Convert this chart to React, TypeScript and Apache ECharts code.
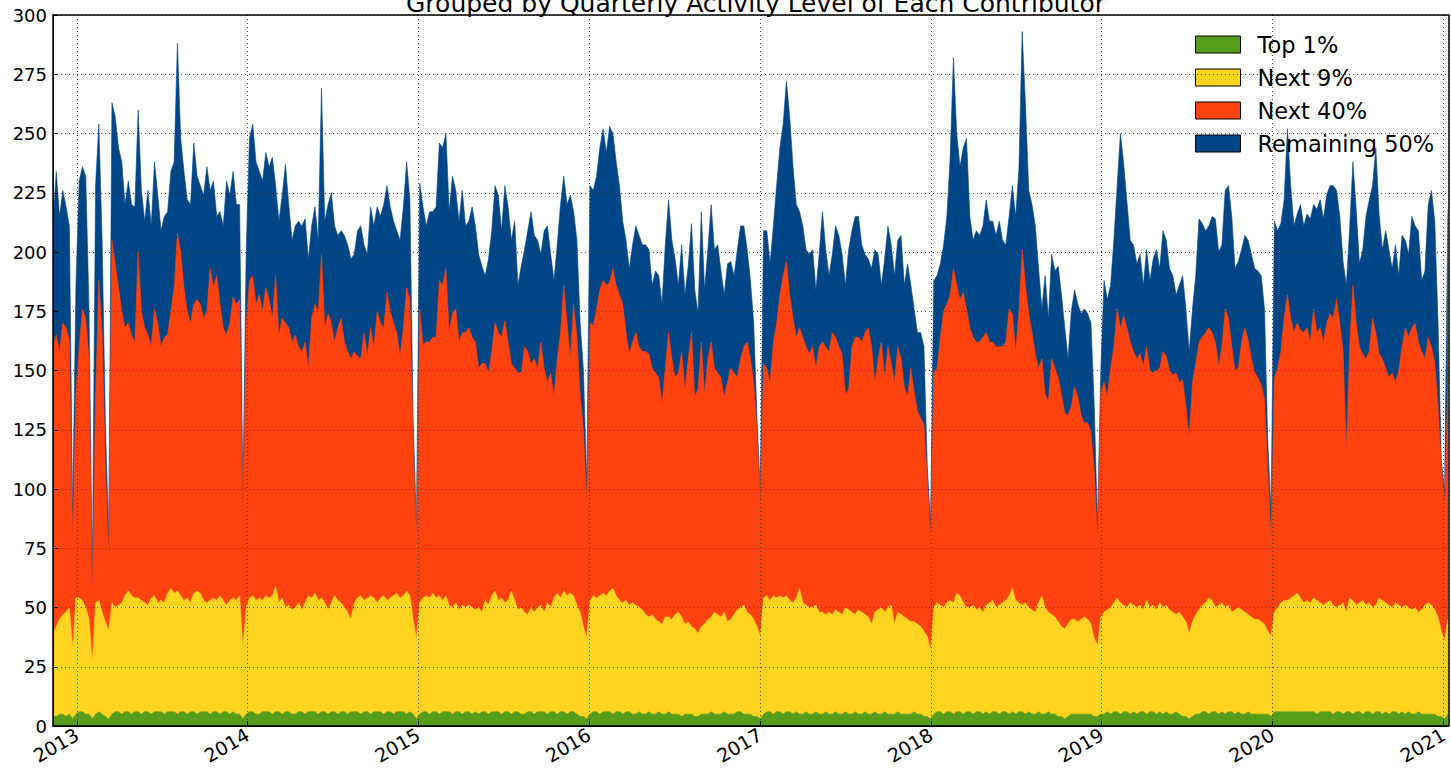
import React, { useEffect, useRef } from "react";
import * as echarts from "echarts";

// Weekly samples, first week starting 2012-11-11
const firstWeek = Date.UTC(2012, 10, 11);
const WEEK_MS = 7 * 24 * 3600 * 1000;
const xMin = Date.UTC(2012, 10, 11);
const xMax = Date.UTC(2021, 0, 10);

const titleText = "Grouped by Quarterly Activity Level of Each Contributor";
const legendOrder = ["Top 1%", "Next 9%", "Next 40%", "Remaining 50%"];
const groupColors: Record<string, string> = {
  "Top 1%": "#579d1c",
  "Next 9%": "#ffd320",
  "Next 40%": "#ff420e",
  "Remaining 50%": "#004586",
};

// Cumulative level (top of each band) per week
// Top of "Remaining 50%" band (= all contributors)
const levelAll = [
  213,234,215,226,219,211,89,186,230,236,
  232,176,62,228,254,205,128,80,263,257,
  244,238,220,230,220,219,260,226,213,226,
  211,238,224,209,215,217,234,238,288,248,
  234,222,220,246,232,228,224,236,226,230,
  215,217,211,230,224,234,220,220,97,200,
  248,254,238,234,230,242,236,240,228,213,
  224,237,220,205,211,213,211,214,197,211,
  219,205,269,213,220,225,211,207,209,207,
  203,197,199,209,211,203,199,219,211,219,
  215,220,228,219,213,209,205,219,238,222,
  128,85,229,219,211,217,217,219,246,244,
  250,217,232,226,213,226,211,213,219,211,
  199,194,190,197,209,228,224,209,228,219,
  205,213,186,194,201,209,217,207,205,199,
  209,211,199,188,203,220,232,220,224,217,
  205,170,150,102,228,226,232,244,252,242,
  253,250,238,228,213,205,193,203,211,207,
  203,203,201,186,192,190,178,203,222,205,
  197,186,203,182,194,212,184,174,217,184,
  201,220,201,203,192,182,195,196,190,201,
  211,211,201,188,170,130,99,209,209,195,
  211,228,244,254,272,257,236,220,217,211,
  201,199,201,184,199,217,201,190,199,211,
  207,199,186,201,209,215,215,203,199,197,
  193,201,199,186,197,211,203,190,205,207,
  186,195,186,176,166,166,160,110,85,188,
  190,195,203,215,240,282,250,236,244,248,
  215,205,209,207,211,222,213,213,207,213,
  205,203,215,228,215,235,293,262,226,220,
  211,193,176,190,172,199,192,194,182,168,
  155,175,184,178,174,176,174,170,135,85,
  150,188,180,186,205,228,250,237,221,205,
  203,195,199,186,201,188,197,201,193,209,
  205,193,190,182,186,190,176,158,176,190,
  214,212,209,211,215,214,200,203,226,228,
  215,193,196,201,207,205,199,193,192,190,
  176,120,90,213,209,212,222,252,228,211,
  216,220,211,216,214,220,218,222,214,224,
  228,228,226,215,196,186,210,238,218,195,
  201,215,222,228,244,216,201,209,201,193,
  203,190,207,205,199,215,211,209,188,192,
  220,226,213,170,112,99,218,
];

// Top of "Next 40%" band (top 50% of contributors)
const levelTop50 = [
  160,165,158,170,168,163,80,141,160,176,
  172,155,55,140,188,165,110,72,205,195,
  185,175,168,170,165,162,200,175,168,165,
  160,176,170,160,164,165,175,185,208,200,
  185,175,170,178,180,178,172,175,193,185,
  190,178,168,165,170,181,178,180,90,170,
  188,190,178,182,175,185,180,172,190,165,
  172,170,168,162,165,160,158,162,151,172,
  178,175,199,168,174,170,162,168,172,162,
  158,155,158,156,155,166,156,168,160,175,
  170,168,183,175,170,166,156,168,185,180,
  120,80,176,161,162,162,164,164,188,186,
  193,166,174,176,162,166,166,168,164,162,
  151,153,153,149,158,170,166,164,171,162,
  153,151,149,149,160,158,153,155,151,162,
  151,145,149,139,155,166,186,170,155,178,
  164,140,125,95,170,169,176,184,188,186,
  187,193,186,182,178,166,157,162,166,160,
  158,158,157,151,149,147,136,151,166,155,
  147,149,158,142,155,166,139,142,162,140,
  155,162,151,149,147,139,145,151,149,147,
  155,160,162,155,145,125,95,153,151,145,
  162,170,182,190,196,182,172,164,168,164,
  160,157,160,151,160,162,160,158,166,164,
  160,157,140,142,160,164,164,162,166,168,
  160,145,155,162,147,160,153,145,160,155,
  143,139,151,141,133,130,127,105,80,149,
  151,164,175,178,182,193,186,180,183,176,
  168,164,162,162,164,166,162,162,160,160,
  160,162,176,174,158,175,201,186,174,166,
  157,151,155,140,137,155,151,147,140,132,
  131,135,143,139,131,128,128,124,108,80,
  141,145,139,151,160,176,168,173,168,162,
  158,155,157,152,160,150,149,150,151,158,
  156,150,148,149,145,146,135,122,145,153,
  162,164,166,168,166,162,152,160,176,172,
  160,150,151,162,168,163,155,149,147,144,
  138,108,79,147,151,158,172,182,172,166,
  170,167,166,168,162,176,166,168,162,170,
  174,172,180,170,158,116,160,186,170,160,
  157,155,158,172,166,157,155,151,147,149,
  145,150,160,168,164,168,170,162,158,155,
  164,160,153,135,110,95,143,
];

// Top of "Next 9%" band (top 10% of contributors)
const levelTop10 = [
  39,42,45,47,48,50,33,54,54,53,
  50,45,27,52,53,48,44,40,52,50,
  51,52,55,57,55,54,54,53,52,51,
  54,55,52,53,52,56,58,56,57,55,
  53,54,52,56,57,56,53,52,53,54,
  53,55,53,51,53,54,53,55,33,50,
  54,55,53,54,53,55,54,55,59,52,
  54,50,51,49,50,52,49,52,55,54,
  56,53,54,52,49,52,55,53,52,50,
  48,45,52,54,55,53,54,55,54,52,
  54,55,53,54,55,56,54,55,57,55,
  45,37,52,54,55,54,56,54,55,53,
  55,51,50,52,49,51,50,51,50,49,
  50,48,53,51,55,57,53,54,52,53,
  57,53,49,50,48,47,50,48,50,51,
  48,52,50,54,56,54,57,55,56,55,
  51,48,42,37,53,55,54,55,56,55,
  57,58,55,53,52,53,51,52,51,50,
  49,47,46,47,45,44,43,46,46,45,
  47,48,46,43,44,42,41,39,42,43,
  45,46,48,47,46,48,44,45,47,49,
  50,51,48,47,45,42,38,54,55,53,
  55,54,55,54,55,53,52,54,58,52,
  51,50,50,51,48,48,47,48,47,49,
  48,47,50,49,48,47,49,48,47,46,
  43,48,49,50,48,50,51,43,48,47,
  46,45,44,44,43,42,40,38,32,50,
  52,51,50,52,53,52,56,55,52,50,
  50,51,49,50,48,51,52,53,50,51,
  52,53,55,58,53,52,51,52,50,49,
  48,52,55,50,48,47,46,44,42,41,
  43,45,45,44,45,46,45,43,37,34,
  46,48,49,50,52,54,52,51,50,52,
  51,50,51,49,53,50,51,49,52,50,
  51,49,48,47,48,46,44,39,44,47,
  49,51,52,54,53,50,51,52,50,51,
  48,49,50,49,48,47,46,45,45,44,
  43,40,38,48,50,52,53,53,54,55,
  56,54,52,53,52,54,53,52,51,52,
  53,51,50,51,52,48,54,53,51,52,
  53,51,52,50,51,54,53,52,51,50,
  52,51,50,51,50,49,50,48,49,51,
  52,51,49,46,40,36,45,
];

// Top of "Top 1%" band
const levelTop1 = [
  4,4,5,5,4,5,3,5,6,6,
  5,5,3,5,6,5,4,3,5,6,
  6,5,6,6,5,6,6,5,6,6,
  5,6,6,6,5,6,6,6,5,6,
  6,5,6,6,5,6,6,6,5,6,
  6,5,6,6,5,6,5,5,3,5,
  6,6,5,5,6,6,6,5,6,6,
  5,6,6,5,5,6,6,5,6,6,
  6,5,6,6,5,6,6,5,6,6,
  5,6,6,6,5,6,6,5,6,6,
  6,5,6,6,5,6,6,6,5,6,
  5,3,5,6,6,5,6,6,5,6,
  6,6,5,6,6,5,6,6,5,6,
  5,6,6,5,6,6,6,5,6,6,
  5,6,6,5,5,6,6,5,6,6,
  6,5,6,6,5,6,6,5,6,6,
  5,4,4,3,5,6,6,5,6,6,
  6,5,6,6,5,6,6,5,5,6,
  5,5,6,5,5,6,5,5,6,5,
  5,5,4,5,5,5,4,4,5,5,
  5,6,5,5,5,6,5,5,5,6,
  6,5,5,5,4,4,3,5,6,6,
  5,6,6,5,6,6,5,6,5,5,
  6,5,5,6,5,5,6,5,5,6,
  5,5,6,5,5,6,5,5,6,5,
  5,6,5,5,6,5,5,5,6,5,
  5,5,5,6,5,5,4,4,3,5,
  6,6,5,6,6,5,6,6,5,6,
  6,5,6,6,5,6,5,6,6,5,
  6,6,5,6,5,6,6,5,6,5,
  5,6,5,5,6,5,5,4,4,3,
  4,5,5,5,5,5,5,5,4,4,
  5,5,6,5,6,6,5,6,6,5,
  6,5,6,6,5,6,6,5,6,5,
  6,5,5,6,5,4,4,3,4,5,
  5,6,6,5,6,6,5,6,5,6,
  6,5,6,5,5,6,5,5,5,5,
  5,5,4,6,6,6,6,6,6,6,
  6,6,6,6,6,6,5,6,6,6,
  6,5,6,6,5,6,6,5,6,6,
  5,6,6,5,6,6,5,6,5,6,
  6,5,6,5,6,5,5,6,5,5,
  5,5,5,4,4,3,5,
];

const bandLevels: Record<string, number[]> = {
  "Remaining 50%": levelAll,
  "Next 40%": levelTop50,
  "Next 9%": levelTop10,
  "Top 1%": levelTop1,
};
// drawing order: widest band behind, narrower ones in front
const drawOrder = ["Remaining 50%", "Next 40%", "Next 9%", "Top 1%"];

const FONT = "DejaVu Sans";

function buildOption(): echarts.EChartsOption {
  const series = drawOrder.map((name, k) => {
    const color = groupColors[name];
    return {
      name,
      type: "line" as const,
      data: bandLevels[name].map((v, i) => [firstWeek + i * WEEK_MS, v]),
      showSymbol: false,
      symbol: "none",
      silent: true,
      z: 2 + k,
      color,
      itemStyle: { color },
      lineStyle: { color, width: 0.6 },
      areaStyle: { color, opacity: 1 },
    };
  });

  return {
    animation: false,
    backgroundColor: "#ffffff",
    title: {
      text: titleText,
      left: 401,
      top: -14,
      textStyle: { fontFamily: FONT, fontSize: 25, fontWeight: "normal", color: "#000" },
    },
    legend: {
      orient: "vertical",
      left: 1195,
      top: 33,
      padding: 0,
      itemWidth: 45,
      itemHeight: 17,
      itemGap: 10,
      icon: "rect",
      data: legendOrder.map((n) => ({
        name: n,
        itemStyle: { color: groupColors[n], borderColor: "#000", borderWidth: 1 },
      })),
      itemStyle: { borderColor: "#000", borderWidth: 1 },
      lineStyle: { width: 0 },
      textStyle: { fontFamily: FONT, fontSize: 22.5, color: "#000", padding: [0, 0, 0, 12] },
      selectedMode: false,
    },
    grid: { left: 53, right: 2, top: 15, bottom: 46, containLabel: false },
    xAxis: {
      type: "time",
      min: xMin,
      max: xMax,
      splitNumber: 8,
      minInterval: 365 * 24 * 3600 * 1000,
      maxInterval: 366 * 24 * 3600 * 1000,
      z: 10,
      axisLine: { show: true, lineStyle: { color: "#000", width: 1 } },
      axisTick: { show: true, inside: true, length: 5, lineStyle: { color: "#000" } },
      axisLabel: {
        rotate: 30,
        margin: 7,
        fontFamily: FONT,
        fontSize: 19,
        color: "#000",
        showMinLabel: false,
        formatter: (val: number) => String(new Date(val).getFullYear()),
      },
      splitLine: { show: true, lineStyle: { color: "#444", width: 1, type: [1, 3] } },
    },
    yAxis: {
      type: "value",
      min: 0,
      max: 300,
      interval: 25,
      z: 10,
      axisLine: { show: true, lineStyle: { color: "#000", width: 1 } },
      axisTick: { show: true, inside: true, length: 5, lineStyle: { color: "#000" } },
      axisLabel: { margin: 6, fontFamily: FONT, fontSize: 18, color: "#000" },
      splitLine: { show: true, lineStyle: { color: "#444", width: 1, type: [1, 3] } },
    },
    graphic: [
      {
        type: "rect",
        z: 100,
        silent: true,
        shape: { x: 53, y: 15, width: 1396, height: 711 },
        style: { fill: "transparent", stroke: "#000", lineWidth: 1.5 },
      },
    ],
    series,
  } as echarts.EChartsOption;
}

export default function App() {
  const ref = useRef<HTMLDivElement>(null);
  useEffect(() => {
    if (!ref.current) return;
    const chart = echarts.init(ref.current, undefined, { renderer: "svg" });
    chart.setOption(buildOption());
    return () => chart.dispose();
  }, []);
  return (
    <div
      ref={ref}
      style={{ position: "absolute", left: 0, top: 0, width: 1451, height: 772, background: "#fff" }}
    />
  );
}
